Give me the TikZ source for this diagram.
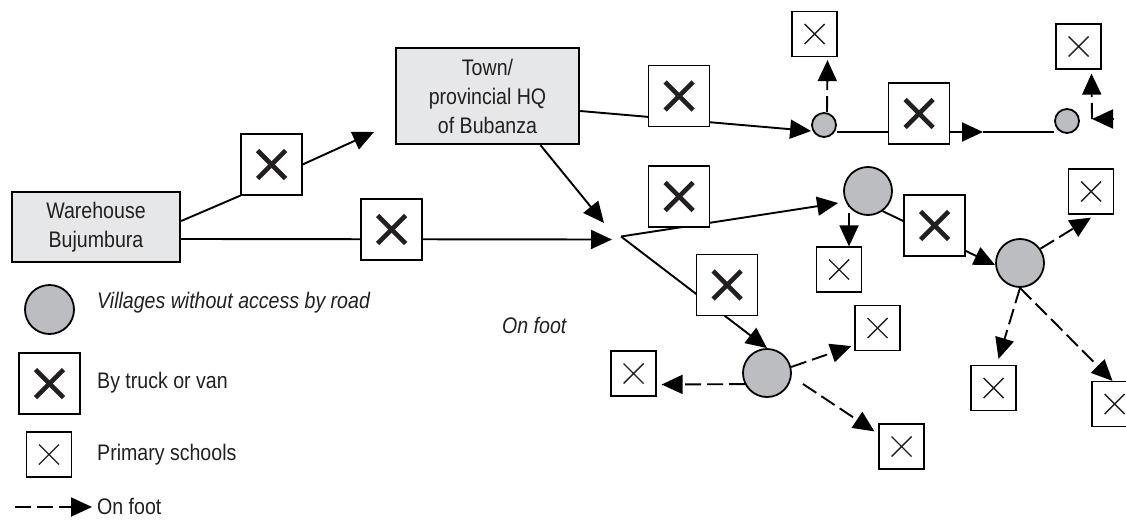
\documentclass[tikz,border=0pt]{standalone}
\usepackage{fontspec}
\setmainfont[FakeStretch=0.87]{Liberation Sans}
\usetikzlibrary{arrows.meta}
\pgfdeclarelayer{bg}
\pgfsetlayers{bg,main}
\definecolor{boxgray}{HTML}{E6E7E8}
\definecolor{villgray}{HTML}{BCBDC0}
\definecolor{ink}{HTML}{231F20}
\tikzset{
  place/.style={draw, line width=2.4pt, fill=boxgray, align=center, inner sep=0pt,
    font=\fontsize{22.5}{29}\selectfont, text=ink},
  truck/.style={draw, line width=1.2pt, fill=white, minimum size=61pt, inner sep=0pt,
    path picture={\draw[line width=4.6pt, ink]
      ([shift={(-14pt,-14pt)}]path picture bounding box.center) -- ([shift={(14pt,14pt)}]path picture bounding box.center)
      ([shift={(-14pt,14pt)}]path picture bounding box.center) -- ([shift={(14pt,-14pt)}]path picture bounding box.center);}},
  school/.style={draw, line width=1.2pt, fill=white, minimum size=45pt, inner sep=0pt,
    path picture={\draw[line width=1.4pt, ink]
      ([shift={(-10pt,-10pt)}]path picture bounding box.center) -- ([shift={(10pt,10pt)}]path picture bounding box.center)
      ([shift={(-10pt,10pt)}]path picture bounding box.center) -- ([shift={(10pt,-10pt)}]path picture bounding box.center);}},
  village/.style={circle, draw, line width=1.8pt, fill=villgray, inner sep=0pt},
  road/.style={line width=1.9pt},
  foot/.style={line width=1.9pt, dash pattern=on 16pt off 6pt},
  arr/.style={-{Triangle[length=21pt,width=19pt]}},
  lbl/.style={anchor=base west, inner sep=0pt, font=\fontsize{22.5}{25}\selectfont, text=ink},
}
\begin{document}
\begin{tikzpicture}[x=1pt,y=-1pt]
\useasboundingbox (0,0) rectangle (1126,519);
% main boxes
\node[place, minimum width=168pt, minimum height=70pt] (wh) at (96,227) {Warehouse\\Bujumbura};
\node[place, minimum width=183pt, minimum height=96pt] (town) at (487.5,96) {Town/\\provincial HQ\\of Bubanza};
% trucks
\node[truck] (t1) at (271.5,164.5) {};
\node[truck] (t2) at (391.5,229.5) {};
\node[truck] (t3) at (679,96) {};
\node[truck] (t4) at (679,196.5) {};
\node[truck] (t5) at (727,285) {};
\node[truck] (t6) at (919,113.5) {};
\node[truck] (t7) at (934.5,225.5) {};
% villages
\node[village, minimum size=24pt] (A) at (824,125) {};
\node[village, minimum size=24pt] (B) at (1067,121) {};
\node[village, minimum size=48pt] (C) at (868,191) {};
\node[village, minimum size=48pt] (D) at (1020,263) {};
\node[village, minimum size=48pt] (E) at (767,373) {};
% schools
\node[school] (s1) at (814.5,34) {};
\node[school] (s2) at (1078.5,46.5) {};
\node[school] (s3) at (839,269.5) {};
\node[school] (s4) at (1091,191.5) {};
\node[school] (s5) at (993.5,388) {};
\node[school] (s6) at (1114.5,404) {};
\node[school] (s7) at (877.5,328) {};
\node[school] (s8) at (633.5,373.5) {};
\node[school] (s9) at (901.5,446.5) {};
% legend
\node[village, minimum size=49pt] (lv) at (49.5,309.5) {};
\node[truck] (lt) at (49.5,383.5) {};
\node[school] (ls) at (49,454.5) {};
\node[lbl] (lvt) at (97,308) {\itshape Villages without access by road};
\node[lbl] (ltt) at (97,388) {By truck or van};
\node[lbl] (lst) at (97,460) {Primary schools};
\node[lbl] (lft) at (97,514) {On foot};
\node[lbl] (onfoot) at (502,333) {\itshape On foot};
% coordinates
\coordinate (tipT) at (374,132);
\coordinate (tipJ) at (612,239.5);
\coordinate (tipJ2) at (604,223);
\coordinate (J) at (621,236.5);
\coordinate (mid) at (983,132);
\coordinate (cB) at (1092,119);
\coordinate (cBr) at (1114,119);
\coordinate (e9) at (803,384);
\coordinate (lg1) at (15,507);
\coordinate (lg2) at (92,507);
\begin{pgfonlayer}{bg}
% road connectors
\draw[road] ([yshift=6pt]wh.east) -- (t1.south west);
\draw[road, arr] (t1.east) -- (tipT);
\draw[road, arr] ([yshift=-12pt]wh.east) -- (tipJ);
\draw[road, arr] ([xshift=53pt]town.south) -- (tipJ2);
\draw[road, arr] ([yshift=-15pt]town.east) -- ([yshift=-6pt]A.west);
\draw[road, arr] (J) -- ([shift={(-5pt,-12pt)}]C.west);
\draw[road, arr] (J) -- (E.north);
\draw[road, arr] ([yshift=-7pt]A.east) -- (mid);
\draw[road] (mid) -- ([yshift=-11pt]B.west);
\draw[road, arr] (C.-54) -- ([yshift=-2pt]D.west);
\draw[road, arr] (cBr) -- (cB);
% foot connectors
\draw[foot, arr] ([xshift=3pt]A.north) -- ([shift={(13pt,-3pt)}]s1.south);
\draw[foot, arr] (cB) -- ([shift={(13pt,-4pt)}]s2.south);
\draw[foot, arr] ([xshift=-19pt]C.center) -- ([xshift=10pt]s3.north);
\draw[foot, arr] (D.35) -- ([yshift=-3pt]s4.south);
\draw[foot, arr] (D.south) -- ([shift={(5pt,6pt)}]s5.north);
\draw[foot, arr] (D.south) -- ([xshift=-2pt]s6.north);
\draw[foot, arr] ([yshift=-11pt]E.center) -- ([shift={(5pt,-11pt)}]s8.east);
\draw[foot, arr] (E.14) -- ([shift={(-3pt,5pt)}]s7.south west);
\draw[foot, arr] (e9) -- ([shift={(-4pt,-8pt)}]s9.north west);
\draw[foot, arr] (lg1) -- (lg2);
\end{pgfonlayer}
\end{tikzpicture}
\end{document}
